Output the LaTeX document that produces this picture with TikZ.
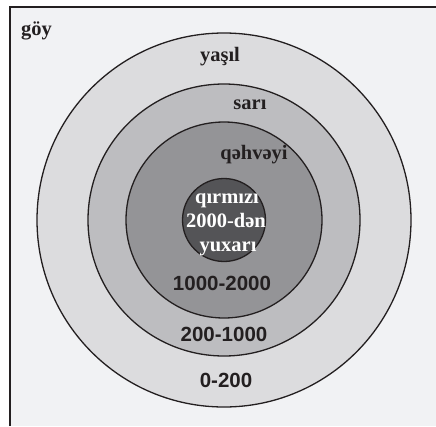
\documentclass[tikz,border=0pt]{standalone}
\usepackage{fontspec}
\setmainfont{Liberation Serif}
\newfontfamily\numfont{Liberation Sans}
\definecolor{bgc}{HTML}{F1F2F4}
\definecolor{ringA}{HTML}{DCDCDE}
\definecolor{ringB}{HTML}{BDBDC0}
\definecolor{ringC}{HTML}{949497}
\definecolor{ringD}{HTML}{545457}
\definecolor{inkc}{HTML}{231F20}
\tikzset{
  zone/.style={draw=inkc, line width=1.3pt},
  serlbl/.style={font=\fontsize{20.5}{24}\selectfont\bfseries, text=inkc, anchor=base, inner sep=0pt},
  numlbl/.style={font=\numfont\fontsize{20.5}{24}\selectfont\bfseries, text=inkc, anchor=base, inner sep=0pt},
  whitelbl/.style={font=\fontsize{20.5}{24}\selectfont\bfseries, text=white, anchor=base, inner sep=0pt},
}
\begin{document}
\begin{tikzpicture}[x=1pt,y=-1pt]
\useasboundingbox (0,0) rectangle (436,426);
\fill[white] (0,0) rectangle (436,426);
\fill[bgc] (9.5,7) rectangle (436,426);
\draw[inkc, line width=2pt] (9.5,426) -- (9.5,7) -- (436,7);
\coordinate (c) at (224,220);
\fill[ringA, zone] (c) circle[radius=187];
\fill[ringB, zone] (c) circle[radius=136];
\fill[ringC, zone] (c) circle[radius=98];
\fill[ringD, zone] (c) circle[radius=41.5];
\node[serlbl, anchor=base west] (goy) at (21,35) {göy};
\node[serlbl] (yasil) at (220,61) {yaşıl};
\node[serlbl] (sari) at (250,109) {sarı};
\node[serlbl] (qehveyi) at (254,159) {qəhvəyi};
\node[whitelbl] (q1) at (227,203) {qırmızı};
\node[whitelbl] (q2) at (226,227) {2000-dən};
\node[whitelbl] (q3) at (228,251) {yuxarı};
\node[numlbl] (n1) at (222,290) {1000-2000};
\node[numlbl] (n2) at (224,341) {200-1000};
\node[numlbl] (n3) at (226,387) {0-200};
\end{tikzpicture}
\end{document}
